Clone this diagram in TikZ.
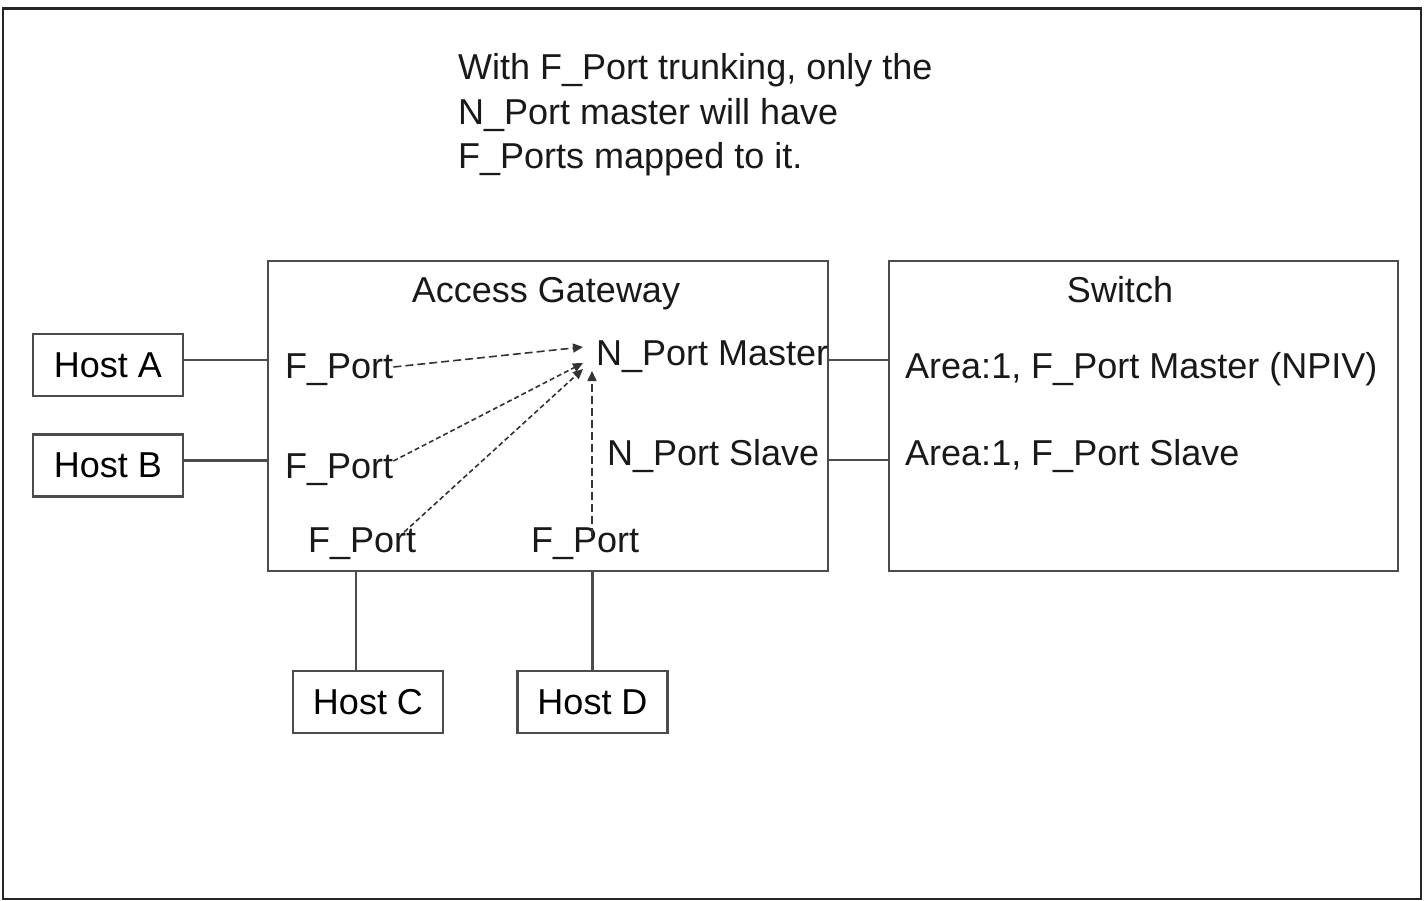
\documentclass[tikz,border=0pt]{standalone}
\usepackage{fontspec}
\setmainfont{Liberation Sans}
\usetikzlibrary{arrows.meta}
\newcommand{\figfont}{\fontsize{36}{44}\selectfont}

\begin{document}
\begin{tikzpicture}[x=1pt, y=-1pt,
    boxline/.style={draw=black!70, line width=2.2pt},
    hostbox/.style={boxline, minimum width=150pt, minimum height=62pt, inner sep=0pt, font=\figfont},
    lbl/.style={inner sep=0pt, anchor=base west, font=\figfont, text=black!90},
    link/.style={black!70, line width=2.4pt},
    maps/.style={black!80, line width=1.6pt, -{Triangle[length=10pt,width=9pt]}}]

    \useasboundingbox (0,0) rectangle (1427,901);
    \draw[black!85, line width=2.5pt] (3,8) rectangle (1421,899);
    \draw[black!85, line width=3pt] (3,9) -- (1421,9);

    % note at the top
    \foreach \txt [count=\i from 0] in {{With F\_Port trunking, only the}, {N\_Port master will have}, {F\_Ports mapped to it.}}
    \node[lbl] (note\i) at (458,{80+44.5*\i}) {\txt};

    % the two boxes
    \node (ag) [boxline, minimum width=560pt, minimum height=310pt] at (548,416) {};
    \node (sw) [boxline, minimum width=509pt, minimum height=310pt] at (1143.5,416) {};
    \node[lbl, anchor=base] (agname) at (546,303) {Access Gateway};
    \node[lbl, anchor=base] (swname) at (1120,303) {Switch};

    % ports
    \node[lbl] (fpa) at (285,378) {F\_Port};
    \node[lbl] (fpb) at (285,478) {F\_Port};
    \node[lbl] (fpc) at (308,552) {F\_Port};
    \node[lbl] (fpd) at (531,552) {F\_Port};
    \node[lbl] (npm) at (596,365) {N\_Port Master};
    \node[lbl] (nps) at (607,465) {N\_Port Slave};
    \node[lbl] (fpm) at (905,378) {Area:1, F\_Port Master (NPIV)};
    \node[lbl] (fps) at (905,465) {Area:1, F\_Port Slave};

    % hosts
    \node (ha) [hostbox] at (108,365) {Host A};
    \node (hb) [hostbox] at (108,465.5) {Host B};
    \node (hc) [hostbox] at (368,702) {Host C};
    \node (hd) [hostbox] at (592.5,702) {Host D};

    \draw[link] ([yshift=5pt]ha.east) -- ([yshift=5pt]ha.east -| ag.west);
    \draw[link] ([yshift=5pt]hb.east) -- ([yshift=5pt]hb.east -| ag.west);
    \draw[link] ([xshift=-12pt]hc.north) -- ([xshift=-12pt]hc.north |- ag.south);
    \draw[link] (hd.north) -- (hd.north |- ag.south);
    \draw[link] (ag.east |- 0,360) -- (sw.west |- 0,360);
    \draw[link] (ag.east |- 0,460) -- (sw.west |- 0,460);

    % trunk mapping
    \coordinate (tipa) at (583,347);
    \coordinate (tipb) at (583,363);
    \coordinate (tipc) at (583,369);
    \coordinate (tipd) at (592,371);
    \draw[maps, dash pattern=on 8pt off 4pt] (fpa.east |- 0,367) -- (tipa);
    \draw[maps, dash pattern=on 5pt off 3pt] (fpb.east |- 0,461) -- (tipb);
    \draw[maps, dash pattern=on 5pt off 3pt] (fpc.north |- 0,532) ++(42,0) -- (tipc);
    \draw[maps, dash pattern=on 8pt off 4pt] (tipd |- 0,536) -- (tipd);

\end{tikzpicture}
\end{document}
